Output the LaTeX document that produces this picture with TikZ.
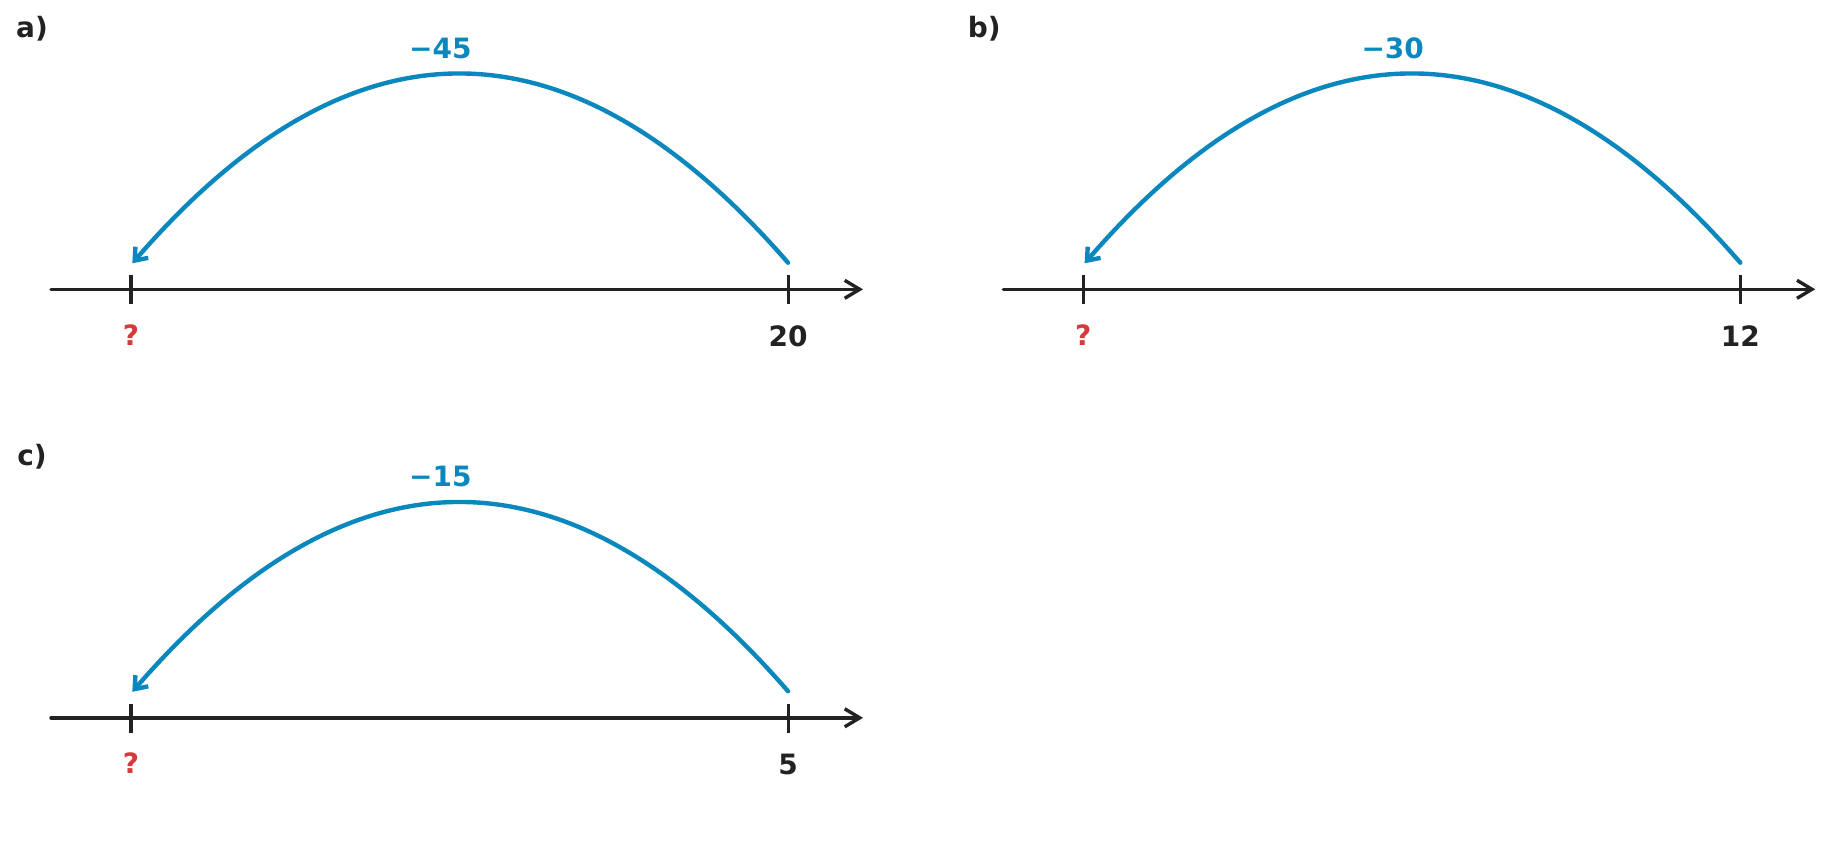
\documentclass[tikz,border=0pt]{standalone}
\usepackage{fontspec}
\setmainfont{DejaVu Sans}
\usetikzlibrary{arrows.meta}
\definecolor{jumpblue}{HTML}{0A88BE}
\definecolor{qred}{HTML}{D63A3A}
\definecolor{inkgray}{HTML}{222222}
\tikzset{
  axisline/.style={draw=inkgray, line width=3.4pt, line cap=round,
    -{Straight Barb[length=15pt,width=18pt,line width=3.4pt]}},
  tickline/.style={draw=inkgray, line width=3.2pt},
  jumparc/.style={draw=jumpblue, line width=4.4pt, line cap=round,
    -{Straight Barb[length=11pt,width=17pt,line width=4.4pt]}},
  bigtext/.style={inner sep=0pt, font=\fontsize{28}{32}\selectfont\bfseries},
  paneltext/.style={bigtext, text=inkgray},
  valtext/.style={bigtext, text=inkgray, anchor=base},
  qtext/.style={bigtext, text=qred, anchor=base},
  jumptext/.style={bigtext, anchor=base, text=jumpblue},
}
\newcommand\jumppanel[6]{%
  \begin{scope}[shift={(#2,#3)}]
    \node[paneltext] (#1lab) at (32,28.3) {#4};
    \coordinate (#1axs) at (51,289.3);
    \coordinate (#1axe) at (863,289.3);
    \draw[axisline] (#1axs) -- (#1axe);
    \coordinate (#1lt) at (131,275);
    \coordinate (#1lb) at (131,304);
    \coordinate (#1rt) at (788.5,275);
    \coordinate (#1rb) at (788.5,304);
    \draw[tickline] (#1lt) -- (#1lb);
    \draw[tickline] (#1rt) -- (#1rb);
    \node[qtext] (#1q) at (131,345.3) {?};
    \node[valtext] (#1v) at (788,346) {#6};
    \coordinate (#1s) at (788,262.7);
    \coordinate (#1c1) at (569.3,10.9);
    \coordinate (#1c2) at (350.8,11.1);
    \coordinate (#1e) at (132.3,263.3);
    \draw[jumparc] (#1s) .. controls (#1c1) and (#1c2) .. (#1e);
    \node[jumptext] (#1j) at (440.4,58.3) {#5};
  \end{scope}}
\begin{document}
\begin{tikzpicture}[x=1pt,y=-1pt]
  \useasboundingbox (0,0) rectangle (1848,844);
  \jumppanel{pa}{0}{0}{a)}{−45}{20}
  \jumppanel{pb}{952.3}{0}{b)}{−30}{12}
  \jumppanel{pc}{0}{428.5}{c)}{−15}{5}
\end{tikzpicture}
\end{document}
